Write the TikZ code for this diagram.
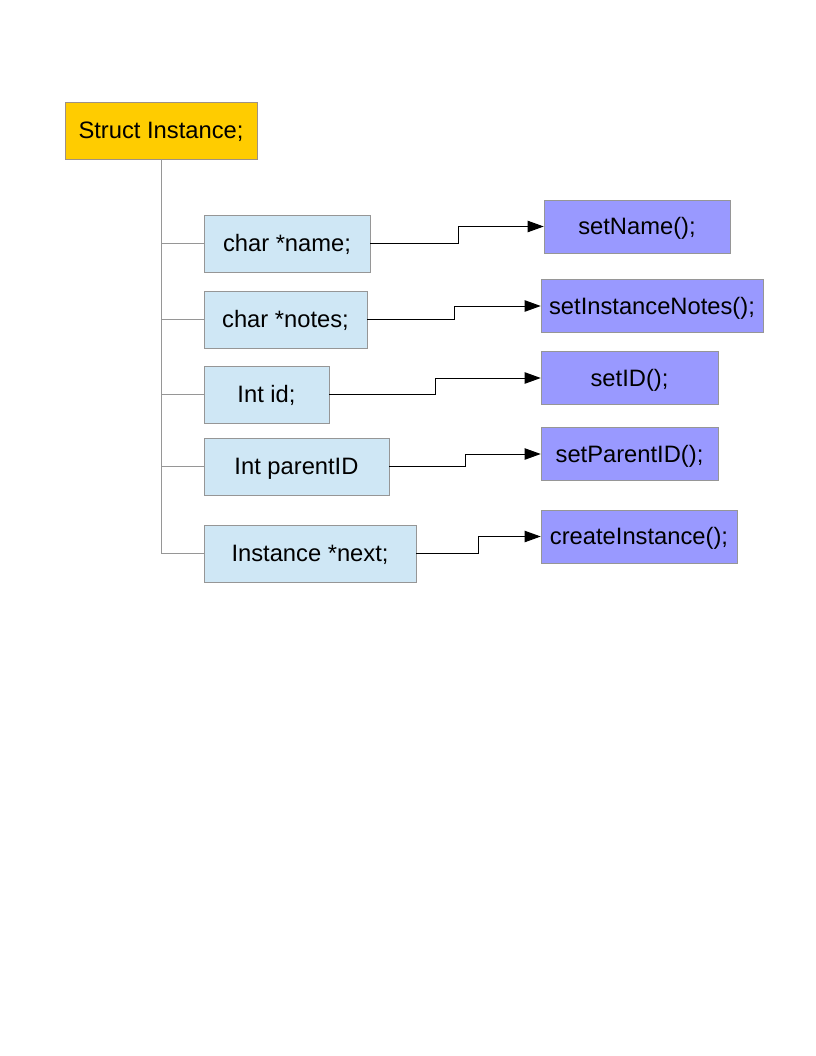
\documentclass[tikz,border=0pt]{standalone}
\usepackage{fontspec}
\setmainfont{Liberation Sans}
\usepackage{tikz}
\usetikzlibrary{arrows.meta,positioning}
\definecolor{structgold}{RGB}{255,204,0}
\definecolor{fieldblue}{RGB}{207,231,245}
\definecolor{funcviolet}{RGB}{153,153,255}
\definecolor{edgegray}{RGB}{150,150,150}

\begin{document}
\begin{tikzpicture}[x=0.75pt, y=-0.75pt,
    struct/.style={rectangle, draw=edgegray!80!brown, fill=structgold, minimum width=144pt, minimum height=42.75pt, inner sep=0pt, text height=14pt, text depth=2pt, font=\fontsize{17.8}{20}\selectfont},
    field/.style={rectangle, draw=edgegray, fill=fieldblue, minimum height=42.75pt, inner sep=0pt, text height=14pt, text depth=2pt, font=\fontsize{17.8}{20}\selectfont},
    func/.style={rectangle, draw=edgegray, fill=funcviolet, minimum height=39.5pt, inner sep=0pt, text height=14pt, text depth=2pt, font=\fontsize{17.8}{20}\selectfont},
    branch/.style={draw=edgegray, line width=0.75pt},
    link/.style={draw=black, line width=0.75pt, -{Triangle[length=12pt, width=8.5pt]}}
]
\useasboundingbox (0,0) rectangle (816,1056);

% Struct
\node[struct] (instance) at (161,130.5) {Struct Instance;};

% Fields
\node[field, minimum width=124.5pt] (name) at (287,243.5) {char *name;};
\node[field, minimum width=122.25pt] (notes) at (285.5,319.5) {char *notes;};
\node[field, minimum width=93.75pt] (id) at (266.5,394.5) {Int id;};
\node[field, minimum width=138.75pt] (parentid) at (296.5,466.5) {Int parentID};
\node[field, minimum width=159pt] (next) at (310,553.5) {Instance *next;};

% Functions
\node[func, minimum width=139.5pt] (setname) at (637,226.5) {setName();};
\node[func, minimum width=166.5pt] (setnotes) at (652,306) {setInstanceNotes();};
\node[func, minimum width=132.75pt] (setid) at (629.5,378) {setID();};
\node[func, minimum width=132.75pt] (setparent) at (629.5,454) {setParentID();};
\node[func, minimum width=147pt] (create) at (639,536.5) {createInstance();};

% Tree
\coordinate (trunk) at (161,553.5);
\draw[branch] (instance.south) -- (trunk) -- (next.west);
\foreach \f in {name, notes, id, parentid}
    \draw[branch] (\f.west) -- (\f.west -| trunk);

% Connections
\draw[link] (name.east) -- ++(88,0) |- (setname.west);
\draw[link] (notes.east) -- ++(87,0) |- (setnotes.west);
\draw[link] (id.east) -- ++(106,0) |- (setid.west);
\draw[link] (parentid.east) -- ++(76,0) |- (setparent.west);
\draw[link] (next.east) -- ++(62,0) |- (create.west);

\end{tikzpicture}
\end{document}
